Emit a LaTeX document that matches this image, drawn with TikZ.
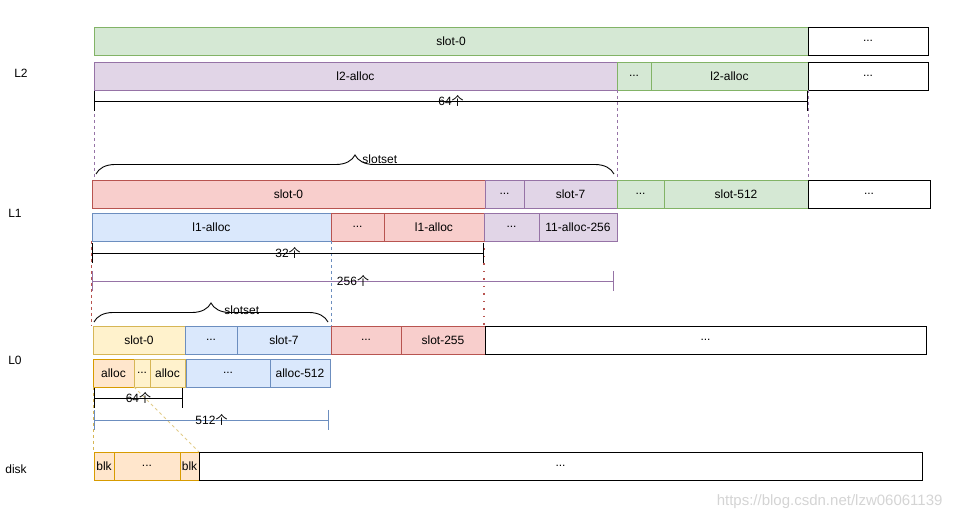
\documentclass[tikz,border=0pt]{standalone}
\usepackage{fontspec}
\setmainfont{Liberation Sans}
\newfontfamily\cjk{Noto Sans CJK SC}
\usetikzlibrary{arrows.meta,positioning,decorations.pathreplacing}
\definecolor{cgreen}{HTML}{82B366}
\definecolor{cgreenf}{HTML}{D5E8D4}
\definecolor{cpurple}{HTML}{9673A6}
\definecolor{cpurplef}{HTML}{E1D5E7}
\definecolor{cred}{HTML}{B85450}
\definecolor{credf}{HTML}{F8CECC}
\definecolor{cblue}{HTML}{6C8EBF}
\definecolor{cbluef}{HTML}{DAE8FC}
\definecolor{cyellow}{HTML}{D6B656}
\definecolor{cyellowf}{HTML}{FFF2CC}
\definecolor{corange}{HTML}{D79B00}
\definecolor{corangef}{HTML}{FFE6CC}
\definecolor{cmark}{HTML}{D4D4D4}

\begin{document}
\begin{tikzpicture}[x=1pt, y=-1pt,
    box/.style={draw, line width=0.9pt, minimum height=28pt, inner sep=0pt,
      outer sep=0pt, font=\fontsize{12}{14}\selectfont},
    gbox/.style={box, draw=cgreen, fill=cgreenf},
    pbox/.style={box, draw=cpurple, fill=cpurplef},
    rbox/.style={box, draw=cred, fill=credf},
    bbox/.style={box, draw=cblue, fill=cbluef},
    ybox/.style={box, draw=cyellow, fill=cyellowf},
    obox/.style={box, draw=corange, fill=corangef},
    wbox/.style={box, draw=black, fill=white},
    lvl/.style={font=\fontsize{12}{14}\selectfont},
    num/.style={font=\fontsize{12}{14}\selectfont, inner sep=0pt, text=black},
    dim/.style={{Bar[width=20pt]}-{Bar[width=20pt]}, line width=0.9pt},
    lnk/.style={dash pattern=on 3pt off 3pt, line width=0.9pt},
    brc/.style={decorate, decoration={brace, amplitude=19pt}, line width=0.9pt},
    brlab/.style={font=\fontsize{12}{14}\selectfont, anchor=west, inner sep=0pt}]
  \useasboundingbox (0,0) rectangle (954,521);

  % levels
  \node[lvl] (tL2) at (21,73) {L2};
  \node[lvl] (tL1) at (15,213) {L1};
  \node[lvl] (tL0) at (15,360) {L0};
  \node[lvl] (tdisk) at (16,469) {disk};

  % L2
  \node[gbox, minimum width=714pt, anchor=north west] (s2a) at (94,27) {slot-0};
  \node[wbox, minimum width=120pt, right=0pt of s2a] (s2x) {...};
  \node[pbox, minimum width=523pt, anchor=north west] (l2a) at (94,62) {l2-alloc};
  \node[gbox, minimum width=34pt, right=0pt of l2a] (l2d) {...};
  \node[gbox, minimum width=157pt, right=0pt of l2d] (l2b) {l2-alloc};
  \node[wbox, minimum width=120pt, right=0pt of l2b] (l2x) {...};

  % L1
  \node[rbox, minimum width=393pt, anchor=north west] (s1a) at (92,180) {slot-0};
  \node[pbox, minimum width=39pt, right=0pt of s1a] (s1d) {...};
  \node[pbox, minimum width=93pt, right=0pt of s1d] (s1b) {slot-7};
  \node[gbox, minimum width=47pt, right=0pt of s1b] (s1e) {...};
  \node[gbox, minimum width=144pt, right=0pt of s1e] (s1c) {slot-512};
  \node[wbox, minimum width=122pt, right=0pt of s1c] (s1x) {...};
  \node[bbox, minimum width=239pt, anchor=north west] (a1a) at (92,213) {l1-alloc};
  \node[rbox, minimum width=53pt, right=0pt of a1a] (a1d) {...};
  \node[rbox, minimum width=100pt, right=0pt of a1d] (a1b) {l1-alloc};
  \node[pbox, minimum width=55pt, right=0pt of a1b] (a1e) {...};
  \node[pbox, minimum width=78pt, right=0pt of a1e] (a1c) {11-alloc-256};

  % L0
  \node[ybox, minimum width=92pt, anchor=north west] (s0a) at (93,326) {slot-0};
  \node[bbox, minimum width=52pt, right=0pt of s0a] (s0d) {...};
  \node[bbox, minimum width=94pt, right=0pt of s0d] (s0b) {slot-7};
  \node[rbox, minimum width=70pt, right=0pt of s0b] (s0e) {...};
  \node[rbox, minimum width=84pt, right=0pt of s0e] (s0c) {slot-255};
  \node[wbox, minimum width=441pt, right=0pt of s0c] (s0x) {...};
  \node[obox, minimum width=41pt, anchor=north west] (a0a) at (93,359) {alloc};
  \node[ybox, minimum width=16pt, right=0pt of a0a] (a0d) {...};
  \node[ybox, minimum width=35pt, right=0pt of a0d] (a0b) {alloc};
  \node[bbox, minimum width=84pt, right=1pt of a0b] (a0e) {...};
  \node[bbox, minimum width=60pt, right=0pt of a0e] (a0c) {alloc-512};

  % disk
  \node[obox, minimum width=20pt, anchor=north west] (b0) at (94,452) {blk};
  \node[obox, minimum width=66pt, right=0pt of b0] (bd) {...};
  \node[obox, minimum width=19pt, right=0pt of bd] (b1) {blk};
  \node[wbox, minimum width=723pt, right=0pt of b1] (bx) {...};

  % mapping lines
  \draw[lnk, cpurple] (l2a.south west) -- (l2a.south west |- s1a.north);
  \draw[lnk, cpurple] (l2a.south east) -- (l2a.south east |- s1a.north);
  \draw[lnk, cpurple] (l2b.south east) -- (l2b.south east |- s1a.north);
  \draw[lnk, cred] ([xshift=-1pt]a1a.south west) -- ([xshift=-1pt]a1a.south west |- s0a.north);
  \draw[lnk, cblue] (a1a.south east) -- (a1a.south east |- s0a.north);
  \draw[cred, line width=1.5pt, dash pattern=on 1.5pt off 6pt] (a1b.south east) -- (a1b.south east |- s0a.north);
  \draw[lnk, cyellow] (a0a.south west) -- (a0a.south west |- b0.north);
  \draw[lnk, cyellow!70] (a0a.south east) -- (b1.north east);

  % sizes
  \draw[dim] ([yshift=-11pt]l2a.south west) -- ([yshift=-11pt]l2b.south east)
    node[num, midway] {64{\cjk 个}};
  \draw[dim] ([yshift=-12pt]a1a.south west) -- ([yshift=-12pt]a1b.south east)
    node[num, midway] {32{\cjk 个}};
  \draw[dim, cpurple] ([yshift=-40pt]a1a.south west) -- ([xshift=-3pt,yshift=-40pt]a1c.south east)
    node[num, midway] {256{\cjk 个}};
  \draw[dim] ([xshift=1pt,yshift=-11pt]a0a.south west) -- ([xshift=-2pt,yshift=-11pt]a0b.south east)
    node[num, midway] {64{\cjk 个}};
  \draw[dim, cblue] ([xshift=1pt,yshift=-33pt]a0a.south west) -- ([xshift=-1pt,yshift=-33pt]a0c.south east)
    node[num, midway] {512{\cjk 个}};

  % slotsets
  \draw[brc] ([xshift=4pt,yshift=6pt]s1a.north west) -- ([xshift=-3pt,yshift=6pt]s1b.north east)
    node[brlab, midway, xshift=7pt, yshift=15pt] {slotset};
  \draw[brc] ([xshift=1pt,yshift=4pt]s0a.north west) -- ([xshift=-3pt,yshift=4pt]s0b.north east)
    node[brlab, midway, xshift=13pt, yshift=12pt] {slotset};

  \node[text=cmark, font=\fontsize{15}{17}\selectfont, anchor=east] (wm) at (946,502)
    {https://blog.csdn.net/lzw06061139};
\end{tikzpicture}
\end{document}
